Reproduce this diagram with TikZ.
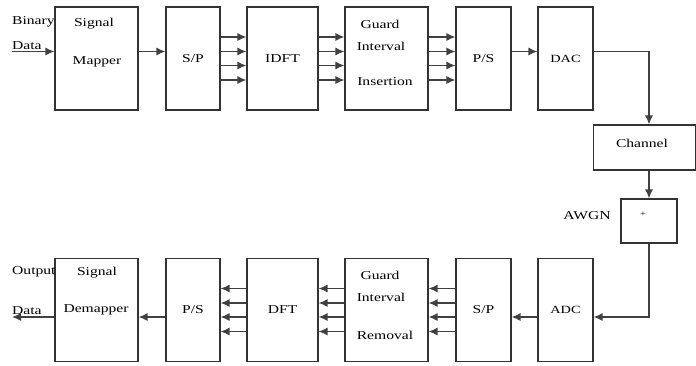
\documentclass[tikz,border=0pt]{standalone}
\usepackage{fontspec}
\setmainfont{Liberation Serif}[FakeStretch=1.3]
\usepackage{tikz}
\usetikzlibrary{arrows.meta, positioning, calc}
\tikzstyle{blk} = [rectangle, draw=black!80, line width=1.1pt, minimum height=103pt, inner sep=0pt]
\tikzstyle{arrow} = [line width=1.4pt, draw=black!75, -{Latex[length=9pt,width=8pt]}]

\begin{document}
\begin{tikzpicture}[
    x=1pt, y=1pt,
    font=\rmfamily\fontsize{12}{14}\selectfont,
    txt/.style={inner sep=0pt}
]
\useasboundingbox (0,0) rectangle (696,-365);

% Transmitter
\node[blk, minimum width=83pt] (mapper) at (96.5,-58.5) {};
\node[blk, minimum width=54pt] (sp) at (193,-58.5) {S/P};
\node[blk, minimum width=71pt] (idft) at (282.5,-58.5) {IDFT};
\node[blk, minimum width=83pt] (gii) at (386.5,-58.5) {};
\node[blk, minimum width=55pt] (ps) at (483.5,-58.5) {P/S};
\node[blk, minimum width=55pt, font=\rmfamily\fontsize{11}{13}\selectfont] (dac) at (565.5,-58.5) {DAC};

\node[txt] (mapperA) at (94,-24) {Signal};
\node[txt] (mapperB) at (97,-62) {Mapper};
\node[txt] (giiA) at (380,-24) {Guard};
\node[txt] (giiB) at (381,-46) {Interval};
\node[txt] (giiC) at (385,-82) {Insertion};
\node[txt, anchor=west] (binA) at (12,-22) {Binary};
\node[txt, anchor=west] (binB) at (12,-46) {Data};
\coordinate (in) at (12,-51.5);

% Channel
\node[blk, minimum width=102pt, minimum height=45pt] (channel) at (644.5,-147.5) {};
\node[txt] (chanT) at (642,-143) {Channel};
\node[blk, minimum width=56pt, minimum height=44pt] (plus) at (649,-221) {};
\node[txt, font=\rmfamily\fontsize{8}{10}\selectfont] (plusT) at (643,-214) {+};
\node[txt] (awgn) at (587,-216) {AWGN};

% Receiver
\node[blk, minimum width=83pt] (demapper) at (96.5,-310) {};
\node[blk, minimum width=54pt] (ps2) at (193,-310) {P/S};
\node[blk, minimum width=71pt] (dft) at (282.5,-310) {DFT};
\node[blk, minimum width=83pt] (gir) at (386.5,-310) {};
\node[blk, minimum width=55pt] (sp2) at (483.5,-310) {S/P};
\node[blk, minimum width=55pt, font=\rmfamily\fontsize{11}{13}\selectfont] (adc) at (565.5,-310) {ADC};

\node[txt] (demapA) at (97,-273) {Signal};
\node[txt] (demapB) at (96,-310) {Demapper};
\node[txt] (girA) at (380,-275) {Guard};
\node[txt] (girB) at (381,-297) {Interval};
\node[txt] (girC) at (385,-335) {Removal};
\node[txt, anchor=west] (outA) at (12,-272) {Output};
\node[txt, anchor=west] (outB) at (12,-311) {Data};
\coordinate (out) at (12,-317);

% Single arrows
\draw[arrow] (in) -- ([yshift=7pt]mapper.west);
\draw[arrow] ([yshift=7pt]mapper.east) -- ([yshift=7pt]sp.west);
\draw[arrow] ([yshift=7pt]ps.east) -- ([yshift=7pt]dac.west);
\draw[arrow] ([yshift=7pt]dac.east) -| (plus.north |- channel.north);
\draw[arrow] (plus.north |- channel.south) -- (plus.north);
\draw[arrow] (plus.south) |- ([yshift=-7pt]adc.east);
\draw[arrow] ([yshift=-7pt]adc.west) -- ([yshift=-7pt]sp2.east);
\draw[arrow] ([yshift=-7pt]ps2.west) -- ([yshift=-7pt]demapper.east);
\draw[arrow] ([yshift=-7pt]demapper.west) -- (out);

% Parallel arrows
\foreach \dy in {21.5,7,-7,-21.5} {
  \draw[arrow] ([yshift=\dy pt]sp.east) -- ([yshift=\dy pt]idft.west);
  \draw[arrow] ([yshift=\dy pt]idft.east) -- ([yshift=\dy pt]gii.west);
  \draw[arrow] ([yshift=\dy pt]gii.east) -- ([yshift=\dy pt]ps.west);
  \draw[arrow] ([yshift=\dy pt]sp2.west) -- ([yshift=\dy pt]gir.east);
  \draw[arrow] ([yshift=\dy pt]gir.west) -- ([yshift=\dy pt]dft.east);
  \draw[arrow] ([yshift=\dy pt]dft.west) -- ([yshift=\dy pt]ps2.east);
}

\end{tikzpicture}
\end{document}
